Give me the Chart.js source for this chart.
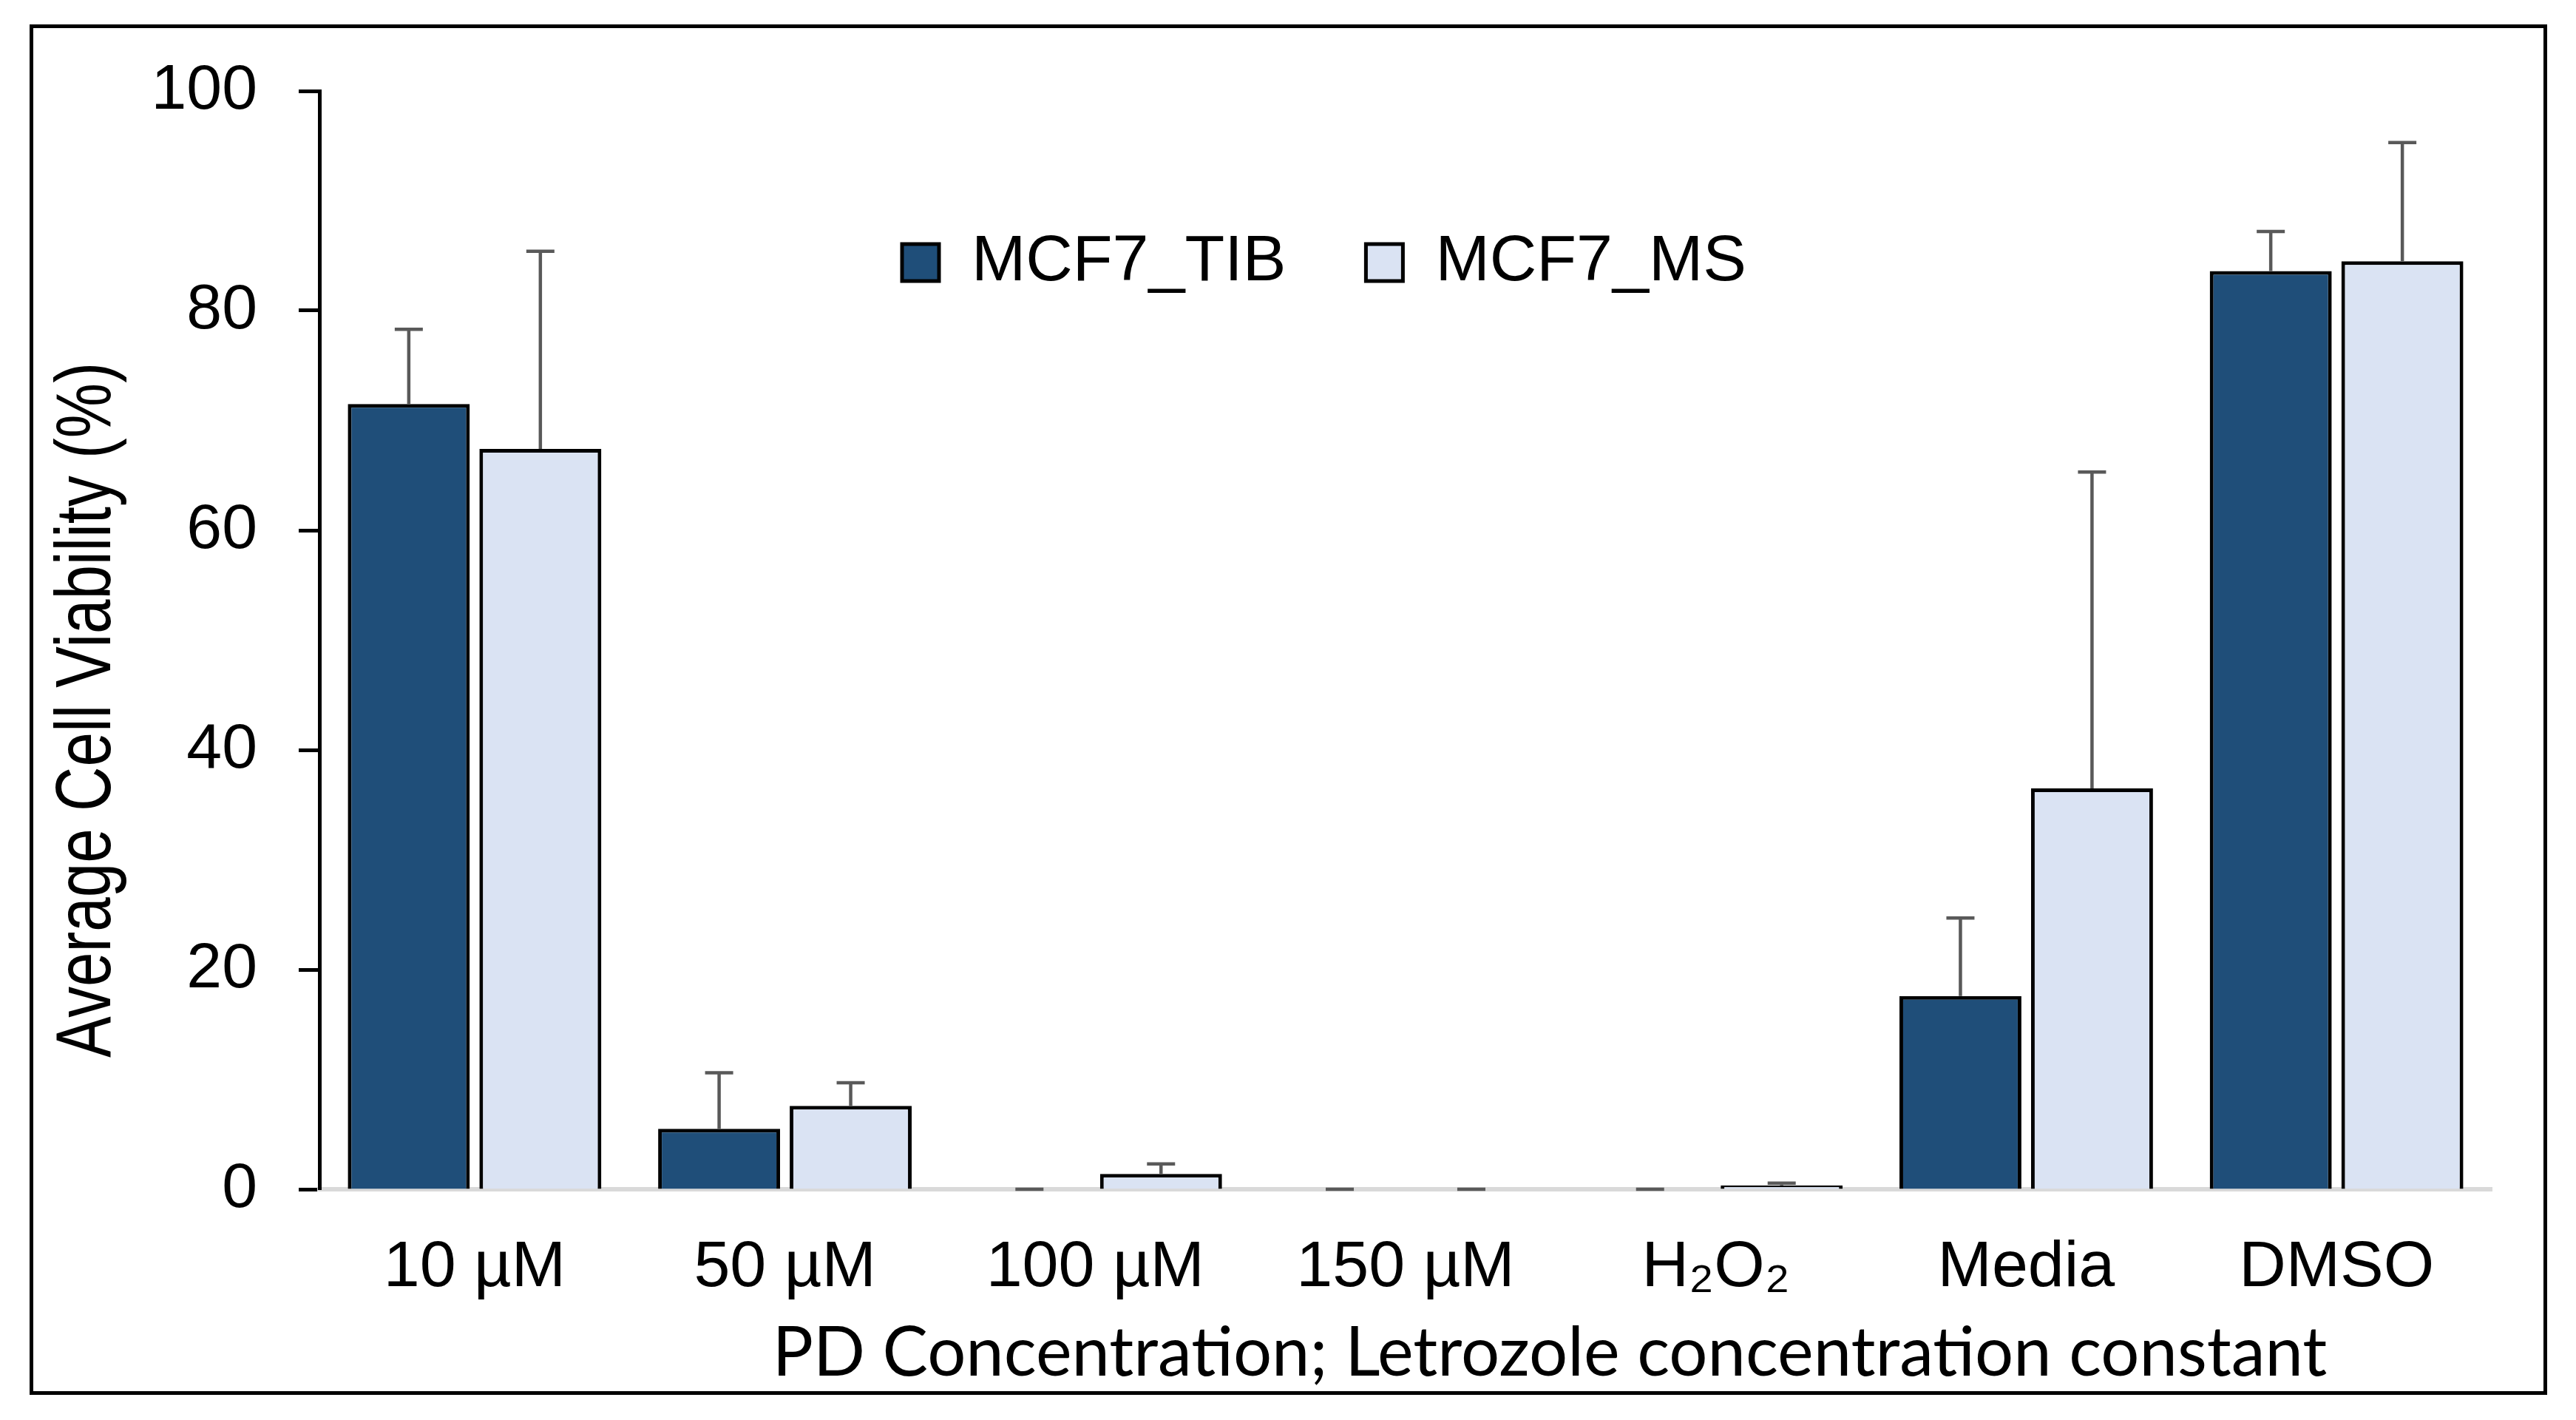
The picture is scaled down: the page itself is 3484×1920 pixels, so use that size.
<!DOCTYPE html>
<html>
<head>
<meta charset="utf-8">
<script src="https://cdn.jsdelivr.net/npm/chart.js"></script>
<style>
  html, body { margin: 0; padding: 0; background: #fff; }
  #wrap { width: 3484px; height: 1920px; position: relative; }
</style>
</head>
<body>
<div id="wrap"><canvas id="chart"></canvas></div>
<script>
const categories = ["10 µM", "50 µM", "100 µM", "150 µM", "H₂O₂", "Media", "DMSO"];
const tibValues = [71.5, 5.5, 0, 0, 0, 17.6, 83.6];
const msValues = [67.4, 7.6, 1.4, 0, 0.35, 36.5, 84.5];
const tibErr = [6.8, 5.1, 0, 0, 0, 7.1, 3.6];
const msErr = [18.0, 2.1, 0.9, 0, 0.2, 28.8, 10.8];
const yTicks = [0, 20, 40, 60, 80, 100];

const xTitle = "PD Concentration; Letrozole concentration constant";
const yTitle = "Average Cell Viability (%)";

// error bars, drawn on top of each bar through the y scale
const errorBars = {
  id: "errorBars",
  afterDatasetsDraw(chart) {
    const ctx = chart.ctx;
    const y = chart.scales.y;
    const errs = [tibErr, msErr];
    ctx.save();
    ctx.strokeStyle = "#595959";
    ctx.lineWidth = 4.5;
    chart.data.datasets.forEach((ds, i) => {
      chart.getDatasetMeta(i).data.forEach((bar, j) => {
        const top = y.getPixelForValue(ds.data[j] + errs[i][j]);
        const base = y.getPixelForValue(ds.data[j]);
        ctx.beginPath();
        ctx.moveTo(bar.x, base);
        ctx.lineTo(bar.x, top);
        ctx.moveTo(bar.x - 19, top);
        ctx.lineTo(bar.x + 19, top);
        ctx.stroke();
      });
    });
    ctx.restore();
  }
};

// legend in one row inside the plot, frame, and the two axis titles
const decor = {
  id: "decor",
  beforeLayout(chart) {
    if (chart.legend) chart.legend.isHorizontal = () => true;
  },
  afterLayout(chart) {
    const lg = chart.legend;
    const w = lg.width, h = lg.height;
    lg.left = 1112; lg.right = lg.left + w;
    lg.top = 203; lg.bottom = lg.top + h;
  },
  afterDraw(chart) {
    const ctx = chart.ctx;
    ctx.save();
    ctx.strokeStyle = "#000";
    ctx.lineWidth = 5;
    ctx.strokeRect(42.5, 35.5, 3400, 1848);
    ctx.fillStyle = "#000";

    ctx.font = "100px Lato";
    const w100 = ctx.measureText(xTitle).width;
    ctx.font = (100 * 2103 / w100) + "px Lato";
    ctx.textAlign = "center";
    ctx.textBaseline = "alphabetic";
    ctx.fillText(xTitle, 2096, 1860);

    ctx.translate(120, 960);
    ctx.rotate(-Math.PI / 2);
    ctx.font = "106px 'Liberation Sans', Arial";
    ctx.textBaseline = "middle";
    ctx.fillText(yTitle, 0, 0, 940);
    ctx.restore();
  }
};

new Chart(document.getElementById("chart"), {
  type: "bar",
  data: {
    labels: categories,
    datasets: [
      {
        label: "MCF7_TIB",
        data: tibValues,
        backgroundColor: "#1F4E79",
        borderColor: "#000",
        borderWidth: 5
      },
      {
        label: "MCF7_MS",
        data: msValues,
        backgroundColor: "#DAE3F3",
        borderColor: "#000",
        borderWidth: 5
      }
    ]
  },
  options: {
    responsive: true,
    maintainAspectRatio: false,
    animation: false,
    categoryPercentage: 0.848,
    barPercentage: 0.927,
    layout: { padding: { left: 40, right: 114, top: 123, bottom: 0 } },
    plugins: {
      legend: {
        position: "chartArea",
        align: "start",
        labels: {
          color: "#000",
          font: { family: "'Liberation Sans', Arial", size: 88 },
          boxWidth: 50,
          boxHeight: 50,
          padding: 108
        }
      },
      tooltip: { enabled: false }
    },
    scales: {
      x: {
        z: 1,
        grid: { display: false, drawTicks: false, tickLength: 0 },
        border: { color: "#d9d9d9", width: 6 },
        ticks: {
          color: "#000",
          padding: 54,
          font: { family: "'Liberation Sans', Arial", size: 88 },
          maxRotation: 0,
          autoSkip: false
        },
        afterFit(s) { s.height = 312; }
      },
      y: {
        min: 0,
        max: 100,
        afterBuildTicks(s) { s.ticks = yTicks.map(v => ({ value: v })); },
        grid: {
          drawOnChartArea: false,
          drawTicks: true,
          tickLength: 28,
          tickWidth: 5,
          tickColor: "#000"
        },
        border: { color: "#000", width: 5 },
        ticks: {
          color: "#000",
          padding: 56,
          font: { family: "'Liberation Sans', Arial", size: 86 }
        },
        afterFit(s) { s.width = 392; }
      }
    }
  },
  plugins: [errorBars, decor]
});
</script>
</body>
</html>
